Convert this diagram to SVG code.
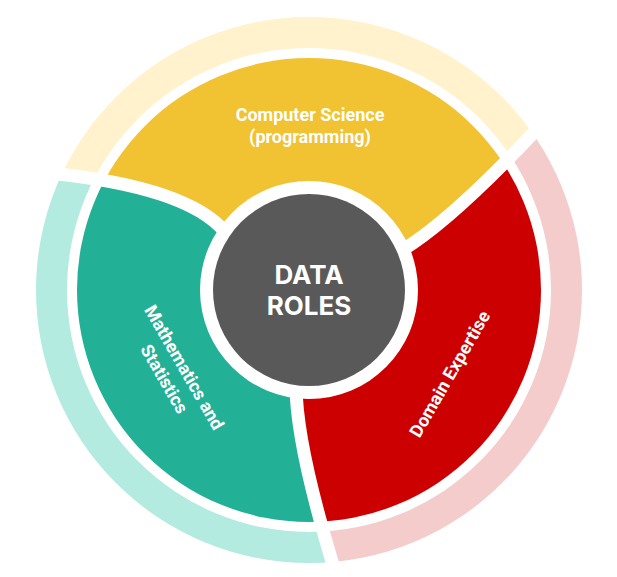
<svg xmlns="http://www.w3.org/2000/svg" width="617" height="577" viewBox="0 0 617 577">
  <style>
    .lbl { font-family: Roboto, "Liberation Sans", sans-serif; font-weight: 700; font-size: 18px; fill: #ffffff; text-anchor: middle; }
    .center { font-family: Inter, "Open Sans", "Liberation Sans", sans-serif; font-weight: 700; font-size: 26px; fill: #ffffff; text-anchor: middle; }
    .sep { fill: none; stroke: #ffffff; stroke-width: 13; }
  </style>
  <defs>
    <clipPath id="outerClip"><circle cx="309" cy="290" r="273"/></clipPath>
    <clipPath id="mainClip"><circle cx="309" cy="290" r="232"/></clipPath>
    <path id="wYellow" d="M309,290 L225,232 Q188.5,187.5 50,173 L-100,120 L-100,-100 L700,-100 L700,60 L538,128 Q449,223 399,252 Z"/>
    <path id="wRed" d="M309,290 L399,252 Q449,223 538,128 L700,60 L700,700 L360,700 L334,568 Q296,443.5 296,385 Z"/>
    <path id="wGreen" d="M309,290 L296,385 Q296,443.5 334,568 L360,700 L-100,700 L-100,120 L50,173 Q188.5,187.5 225,232 Z"/>
  </defs>
  <rect width="617" height="577" fill="#ffffff"/>
  <g id="outer-ring" clip-path="url(#outerClip)">
    <use href="#wYellow" fill="#FFF2CC"/>
    <use href="#wRed" fill="#F4CCCC"/>
    <use href="#wGreen" fill="#B3EBE0"/>
  </g>
  <circle cx="309" cy="290" r="242" fill="#ffffff"/>
  <g id="node-cs" clip-path="url(#mainClip)">
    <use href="#wYellow" fill="#F1C232"/>
  </g>
  <g id="node-domain" clip-path="url(#mainClip)">
    <use href="#wRed" fill="#CC0000"/>
  </g>
  <g id="node-math" clip-path="url(#mainClip)">
    <use href="#wGreen" fill="#22B196"/>
  </g>
  <g id="connectors">
    <path class="sep" d="M50,173 Q188.5,187.5 225,232"/>
    <path class="sep" d="M538,128 Q449,223 399,252"/>
    <path class="sep" d="M334,568 Q296,443.5 296,385"/>
  </g>
  <g id="node-center">
    <circle cx="309" cy="290" r="109" fill="#ffffff"/>
    <circle cx="309" cy="290" r="96" fill="#595959"/>
    <text class="center" x="309" y="284">DATA</text>
    <text class="center" x="309" y="315">ROLES</text>
  </g>
  <g id="labels">
    <text class="lbl" x="310" y="121">Computer Science</text>
    <text class="lbl" x="310" y="143">(programming)</text>
    <g transform="translate(174.5,373) rotate(60)">
      <text class="lbl" x="0" y="-5">Mathematics and</text>
      <text class="lbl" x="0" y="18">Statistics</text>
    </g>
    <g transform="translate(450,374) rotate(-60)">
      <text class="lbl" x="0" y="6">Domain Expertise</text>
    </g>
  </g>
</svg>
